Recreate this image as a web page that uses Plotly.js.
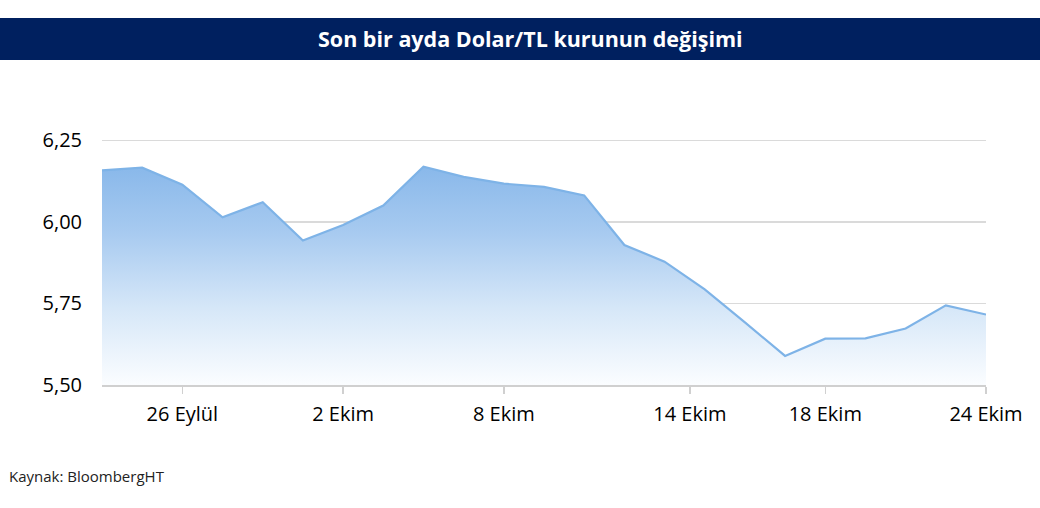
<!DOCTYPE html>
<html>
<head>
<meta charset="utf-8">
<script src="https://cdn.plot.ly/plotly-3.0.1.min.js"></script>
<style>
  html, body { margin: 0; padding: 0; background: #fff; }
  #chart { width: 1040px; height: 508px; }
</style>
</head>
<body>
<div id="chart"></div>
<script>
  // trading days, 24 Eylül - 24 Ekim
  var dates = ["24 Eylül", "25 Eylül", "26 Eylül", "27 Eylül", "28 Eylül",
    "1 Ekim", "2 Ekim", "3 Ekim", "4 Ekim", "5 Ekim",
    "8 Ekim", "9 Ekim", "10 Ekim", "11 Ekim", "12 Ekim",
    "15 Ekim", "16 Ekim", "17 Ekim", "18 Ekim", "19 Ekim",
    "22 Ekim", "23 Ekim", "24 Ekim"];
  var usdtry = [6.158, 6.166, 6.114, 6.014, 6.060,
    5.943, 5.990, 6.050, 6.169, 6.138,
    6.117, 6.107, 6.081, 5.929, 5.878,
    5.793, 5.692, 5.589, 5.642, 5.643,
    5.673, 5.744, 5.716];
  var tickPos = [2, 6, 10, 14.63, 18, 22];
  var tickLabels = ["26 Eylül", "2 Ekim", "8 Ekim", "14 Ekim", "18 Ekim", "24 Ekim"];
  var yTicks = [5.5, 5.75, 6.0, 6.25];

  var xs = dates.map(function (d, i) { return i; });

  var W = 1040, H = 508;
  var m = { l: 102, r: 54, t: 137, b: 123 };
  var pw = W - m.l - m.r, ph = H - m.t - m.b;
  // pixel -> paper helpers for the banner
  function px(x) { return (x - m.l) / pw; }
  function py(y) { return (H - m.b - y) / ph; }

  var font = "Open Sans, Lato, sans-serif";

  Plotly.newPlot("chart", [{
    x: xs,
    y: usdtry,
    text: dates,
    type: "scatter",
    mode: "lines",
    line: { color: "#7eb3e7", width: 2.2 },
    fill: "tozeroy",
    fillgradient: {
      type: "vertical",
      start: 5.5,
      stop: 6.17,
      colorscale: [[0, "#fbfdff"], [0.35, "#d6e7f8"], [0.7, "#a7caf0"], [1, "#89b8ea"]]
    },
    hoverinfo: "text+y"
  }], {
    width: W,
    height: H,
    margin: m,
    paper_bgcolor: "#fff",
    plot_bgcolor: "#fff",
    showlegend: false,
    separators: ",.",
    font: { family: font, color: "#000" },
    xaxis: {
      range: [0, 22],
      tickvals: tickPos,
      ticktext: tickLabels,
      showgrid: false,
      zeroline: false,
      showline: true,
      linecolor: "#d0d0d0",
      linewidth: 1.5,
      ticks: "outside",
      ticklen: 7,
      tickwidth: 1.5,
      tickcolor: "#d0d0d0",
      tickfont: { size: 20, family: font },
      ticklabelstandoff: 3
    },
    yaxis: {
      range: [5.5, 6.26],
      tickvals: yTicks,
      tickformat: ".2f",
      showgrid: true,
      gridcolor: "#dadada",
      gridwidth: 1.5,
      zeroline: false,
      showline: false,
      ticks: "",
      tickfont: { size: 20, family: font },
      ticklabelstandoff: 19
    },
    shapes: [{
      type: "rect",
      xref: "paper", yref: "paper",
      x0: px(0), x1: px(W), y0: py(60), y1: py(18),
      fillcolor: "#00205f",
      line: { width: 0 },
      layer: "above"
    }],
    annotations: [{
      xref: "paper", yref: "paper",
      x: px(530), y: py(39),
      xanchor: "center", yanchor: "middle",
      showarrow: false,
      text: "<b>Son bir ayda Dolar/TL kurunun değişimi</b>",
      font: { size: 21.5, color: "#fff", family: font }
    }, {
      xref: "paper", yref: "paper",
      x: px(7), y: py(476),
      xanchor: "left", yanchor: "middle",
      showarrow: false,
      text: "Kaynak: BloombergHT",
      font: { size: 15, color: "#222", family: font }
    }]
  }, { displayModeBar: false, staticPlot: true });
</script>
</body>
</html>
